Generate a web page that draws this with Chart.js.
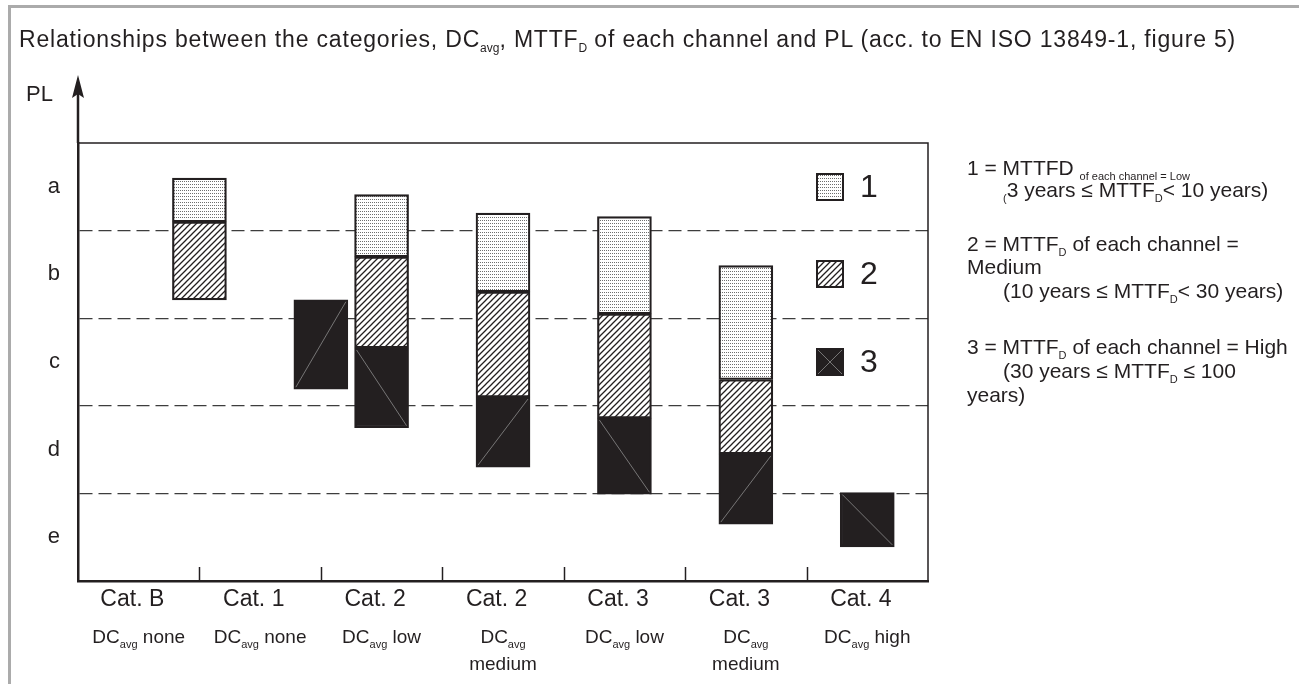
<!DOCTYPE html>
<html>
<head>
<meta charset="utf-8">
<script src="https://cdn.jsdelivr.net/npm/chart.js@4.4.1/dist/chart.umd.min.js"></script>
<style>
html,body{margin:0;padding:0;background:#fff;width:1299px;height:684px;overflow:hidden;
  font-family:"Liberation Sans",Arial,sans-serif;color:#231f20;}
#c{position:absolute;left:0;top:0;}
#frame{position:absolute;left:8px;top:5px;width:1291px;height:679px;border-top:3px solid #ababab;border-left:3px solid #ababab;box-sizing:border-box;pointer-events:none;}
.t{position:absolute;white-space:nowrap;line-height:1;}
#title{left:19px;top:28px;font-size:23px;letter-spacing:0.82px;}
#pl{left:26px;top:83px;font-size:22px;}
.note{font-size:21px;left:967px;}
.ind{left:1003px;}
sub{font-size:11px;vertical-align:-5px;line-height:0;letter-spacing:0;}
sub.s{font-size:12px;}
</style>
</head>
<body>
<canvas id="c" width="1299" height="684"></canvas>
<div id="frame"></div>
<div class="t" id="title">Relationships between the categories, DC<sub class="s">avg</sub>, MTTF<sub class="s">D</sub> of each channel and PL (acc. to EN ISO 13849-1, figure 5)</div>
<div class="t" id="pl">PL</div>
<div class="t note" style="top:157px">1 = MTTFD <sub>of each channel = Low</sub></div>
<div class="t note ind" style="top:179px"><sub>(</sub>3 years ≤ MTTF<sub>D</sub>&lt; 10 years)</div>
<div class="t note" style="top:233px">2 = MTTF<sub>D</sub> of each channel =</div>
<div class="t note" style="top:256px">Medium</div>
<div class="t note ind" style="top:280px">(10 years ≤ MTTF<sub>D</sub>&lt; 30 years)</div>
<div class="t note" style="top:336px">3 = MTTF<sub>D</sub> of each channel = High</div>
<div class="t note ind" style="top:360px">(30 years ≤ MTTF<sub>D</sub> ≤ 100</div>
<div class="t note" style="top:384px">years)</div>
<script>
// ---- data ----
const categories = ['Cat. B', 'Cat. 1', 'Cat. 2', 'Cat. 2', 'Cat. 3', 'Cat. 3', 'Cat. 4'];
const dcLevels = ['none', 'none', 'low', 'medium', 'low', 'medium', 'high'];
const plLevels = ['a', 'b', 'c', 'd', 'e'];
const barPositions = [0.5, 1.5, 2, 3, 4, 5, 6];
const mttfLow    = [[4.10, 4.60], null, [3.70, 4.41], [3.30, 4.20], [3.05, 4.16], [2.30, 3.60], null];
const mttfMedium = [[3.21, 4.10], null, [2.66, 3.70], [2.10, 3.30], [1.86, 3.05], [1.45, 2.30], null];
const mttfHigh   = [null, [2.19, 3.21], [1.75, 2.66], [1.30, 2.10], [0.99, 1.86], [0.65, 1.45], [0.39, 1.01]];
const legendNames = ['1', '2', '3'];

const INK = '#231f20';
const FONT = '"Liberation Sans", Arial, sans-serif';
Chart.defaults.font.family = FONT;
Chart.defaults.color = INK;

function tile(w, h, paint) {
  const c = document.createElement('canvas'); c.width = w; c.height = h;
  const g = c.getContext('2d'); g.fillStyle = '#fff'; g.fillRect(0, 0, w, h);
  paint(g); return document.getElementById('c').getContext('2d').createPattern(c, 'repeat');
}
const dotFill = tile(2, 3, g => { g.fillStyle = '#6e6e6e'; g.fillRect(0, 1, 1, 1); });
const hatchFill = tile(6, 6, g => {
  g.strokeStyle = INK; g.lineWidth = 1.3; g.beginPath();
  g.moveTo(-1, 7); g.lineTo(7, -1); g.moveTo(-1, 1); g.lineTo(1, -1); g.moveTo(5, 7); g.lineTo(7, 5);
  g.stroke();
});
const fills = [dotFill, hatchFill, INK];

function toPoints(arr) {
  return arr.map((v, i) => v ? { x: barPositions[i], y: v } : null).filter(Boolean);
}
const seriesList = [mttfLow, mttfMedium, mttfHigh];

const datasets = seriesList.map((s, k) => ({
  label: legendNames[k],
  data: toPoints(s),
  backgroundColor: fills[k],
  borderColor: INK,
  borderWidth: 2.2,
  borderSkipped: false,
  xAxisID: 'xb',
  yAxisID: 'yv',
  grouped: false,
  categoryPercentage: 1,
  barPercentage: 1,
  maxBarThickness: 54
}));

function drawDC(ctx, cx, yBase, level) {
  const big = '19px ' + FONT, small = '11px ' + FONT;
  const rest = level === 'medium' ? '' : ' ' + level;
  ctx.font = big; const wDC = ctx.measureText('DC').width; const wRest = ctx.measureText(rest).width;
  ctx.font = small; const wAvg = ctx.measureText('avg').width;
  let x = cx - (wDC + wAvg + wRest) / 2;
  ctx.textAlign = 'left'; ctx.textBaseline = 'alphabetic'; ctx.fillStyle = INK;
  ctx.font = big; ctx.fillText('DC', x, yBase); x += wDC;
  ctx.font = small; ctx.fillText('avg', x, yBase + 5); x += wAvg;
  ctx.font = big; ctx.fillText(rest, x, yBase);
  if (level === 'medium') { ctx.textAlign = 'center'; ctx.fillText(level, cx, yBase + 27); }
}

const decor = {
  id: 'decor',
  afterDatasetsDraw(chart) {
    const ctx = chart.ctx, meta = chart.getDatasetMeta(2);
    ctx.save(); ctx.strokeStyle = '#8c8c8c'; ctx.lineWidth = 0.8;
    meta.data.forEach((bar, k) => {
      const p = bar.getProps(['x', 'y', 'base', 'width'], true);
      const l = p.x - p.width / 2 + 2, r = p.x + p.width / 2 - 2;
      const t = Math.min(p.y, p.base) + 2, b = Math.max(p.y, p.base) - 2;
      ctx.beginPath();
      if (k % 2 === 0) { ctx.moveTo(l, b); ctx.lineTo(r, t); } else { ctx.moveTo(l, t); ctx.lineTo(r, b); }
      ctx.stroke();
    });
    ctx.restore();
  },
  afterDraw(chart) {
    const ctx = chart.ctx, ca = chart.chartArea, xs = chart.scales.x, xb = chart.scales.xb, yv = chart.scales.yv;
    ctx.save();
    ctx.strokeStyle = INK;
    // top and right frame of plot
    ctx.lineWidth = 1.5;
    ctx.beginPath(); ctx.moveTo(ca.left, ca.top); ctx.lineTo(ca.right, ca.top); ctx.lineTo(ca.right, ca.bottom); ctx.stroke();
    // axis extension + arrow
    ctx.lineWidth = 2.5;
    ctx.beginPath(); ctx.moveTo(ca.left, ca.top); ctx.lineTo(ca.left, ca.top - 50); ctx.stroke();
    ctx.fillStyle = INK;
    ctx.beginPath(); ctx.moveTo(ca.left, ca.top - 68); ctx.lineTo(ca.left + 6, ca.top - 45);
    ctx.lineTo(ca.left, ca.top - 49); ctx.lineTo(ca.left - 6, ca.top - 45); ctx.closePath(); ctx.fill();
    // inward ticks between categories
    ctx.lineWidth = 1.5;
    for (let i = 1; i < categories.length; i++) {
      const px = Math.round(xb.getPixelForValue(i - 0.5)) + 0.5;
      ctx.beginPath(); ctx.moveTo(px, ca.bottom); ctx.lineTo(px, ca.bottom - 14); ctx.stroke();
    }
    // DC labels
    dcLevels.forEach((lvl, i) => drawDC(ctx, xs.getPixelForValue(i), ca.bottom + 62, lvl));
    // legend inside the plot
    legendNames.forEach((name, k) => {
      const cy = yv.getPixelForValue(4.5 - k), s = 28, x0 = ca.right - 112, y0 = Math.round(cy - s / 2);
      ctx.fillStyle = fills[k]; ctx.fillRect(x0, y0, s, s);
      if (k === 2) {
        ctx.strokeStyle = '#8c8c8c'; ctx.lineWidth = 0.8; ctx.beginPath();
        ctx.moveTo(x0 + 2, y0 + 2); ctx.lineTo(x0 + s - 2, y0 + s - 2);
        ctx.moveTo(x0 + s - 2, y0 + 2); ctx.lineTo(x0 + 2, y0 + s - 2); ctx.stroke();
      }
      ctx.strokeStyle = INK; ctx.lineWidth = 2; ctx.strokeRect(x0 + 1, y0 + 1, s - 2, s - 2);
      ctx.fillStyle = INK; ctx.font = '32px ' + FONT; ctx.textAlign = 'left'; ctx.textBaseline = 'middle';
      ctx.fillText(name, ca.right - 68, cy + 1);
    });
    ctx.restore();
  }
};

new Chart(document.getElementById('c'), {
  type: 'bar',
  data: { datasets },
  options: {
    responsive: false, animation: false, devicePixelRatio: 1,
    layout: { padding: { left: 0, top: 143, right: 371, bottom: 0 } },
    plugins: { legend: { display: false }, tooltip: { enabled: false } },
    scales: {
      x: {
        type: 'category', labels: categories, offset: true, position: 'bottom',
        grid: { display: false, drawTicks: false, offset: true },
        border: { display: true, color: INK, width: 2.5 },
        ticks: { font: { size: 23 }, color: INK, padding: 5, autoSkip: false, maxRotation: 0,
                 callback: (v, i) => categories[i] + '\u00a0\u00a0' },
        afterFit: s => { s.height = 103; }
      },
      xb: { type: 'linear', display: false, offset: false, min: -0.5, max: 6.5, ticks: { stepSize: 0.5 } },
      y: {
        type: 'category', labels: plLevels, offset: true, position: 'left',
        grid: { offset: true, drawTicks: false, lineWidth: 1.3,
                color: c => (c.index > 0 && c.index < plLevels.length) ? '#3d3d3d' : 'rgba(0,0,0,0)' },
        border: { display: true, color: INK, width: 2.5, dash: [13, 6] },
        ticks: { font: { size: 22 }, color: INK, padding: 18 },
        afterFit: s => { s.width = 78; }
      },
      yv: { type: 'linear', display: false, offset: false, min: 0, max: 5 }
    }
  },
  plugins: [decor]
});
</script>
</body>
</html>
